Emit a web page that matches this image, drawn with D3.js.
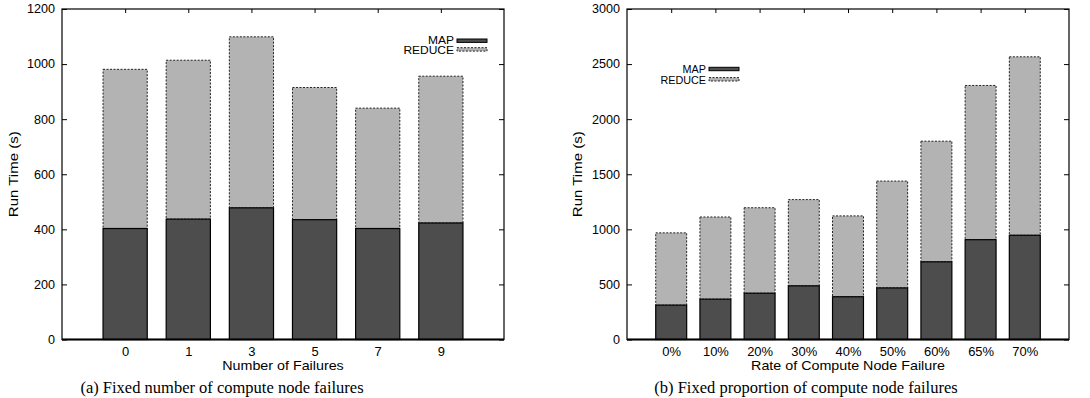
<!DOCTYPE html>
<html>
<head>
<meta charset="utf-8">
<script src="https://cdn.jsdelivr.net/npm/d3@7"></script>
<style>
body { margin: 0; background: #fff; }
svg text { font-family: "Liberation Sans", Arial, sans-serif; fill: #000; }
svg text.caption { font-family: "Liberation Serif", "Times New Roman", serif; }
</style>
</head>
<body>
<div id="chart"></div>
<script>

// (a) fixed number of failures
var failureCounts = ["0", "1", "3", "5", "7", "9"];
var countMap = [403, 437, 478, 435, 403, 423];
var countReduce = [578, 577, 621, 480, 437, 533];
var countTicks = [0, 200, 400, 600, 800, 1000, 1200];

// (b) fixed proportion of failures
var failureRates = ["0%", "10%", "20%", "30%", "40%", "50%", "60%", "65%", "70%"];
var rateMap = [312, 366, 420, 487, 388, 468, 705, 906, 946];
var rateReduce = [656, 746, 776, 783, 734, 970, 1095, 1400, 1620];
var rateTicks = [0, 500, 1000, 1500, 2000, 2500, 3000];

var seriesNames = ["MAP", "REDUCE"];

var svg = d3.select("#chart").append("svg")
	.attr("width", 1090)
	.attr("height", 398);

/*
 * StackedBarVis - one gnuplot-style panel
 */
StackedBarVis = function(_svg, _opts){
	this.svg = _svg;
	this.opts = _opts;
	this.initVis();
}

StackedBarVis.prototype.initVis = function(){
	var vis = this;
	var o = vis.opts;

	vis.width = o.width;
	vis.height = o.height;

	vis.g = vis.svg.append("g")
		.attr("transform", "translate(" + o.left + "," + o.top + ")");

	var n = o.categories.length;
	vis.x = d3.scaleLinear().domain([0, n + 1]).range([0, vis.width]);
	vis.y = d3.scaleLinear().domain([0, d3.max(o.ticks)]).range([vis.height, 0]);

	var rows = o.categories.map(function(c, i){
		return { cat: c, i: i + 1, map: o.map[i], reduce: o.reduce[i] };
	});
	var half = 0.35;

	// reduce part (on top of map)
	vis.g.selectAll(".reduce")
		.data(rows)
		.enter()
		.append("rect")
		.attr("class", "reduce")
		.attr("x", function(d){ return vis.x(d.i - half); })
		.attr("width", function(d){ return vis.x(d.i + half) - vis.x(d.i - half); })
		.attr("y", function(d){ return vis.y(d.map + d.reduce); })
		.attr("height", function(d){ return vis.y(d.map) - vis.y(d.map + d.reduce); })
		.attr("fill", "#b3b3b3")
		.attr("stroke", "#222")
		.attr("stroke-width", 1)
		.attr("stroke-dasharray", "2,1.5");

	vis.g.selectAll(".map")
		.data(rows)
		.enter()
		.append("rect")
		.attr("class", "map")
		.attr("x", function(d){ return vis.x(d.i - half); })
		.attr("width", function(d){ return vis.x(d.i + half) - vis.x(d.i - half); })
		.attr("y", function(d){ return vis.y(d.map); })
		.attr("height", function(d){ return vis.y(0) - vis.y(d.map); })
		.attr("fill", "#4d4d4d")
		.attr("stroke", "#000")
		.attr("stroke-width", 1.2);

	// axes, gnuplot style ticks pointing inward
	var yLeft = vis.g.append("g")
		.call(d3.axisLeft(vis.y).tickValues(o.ticks).tickSize(-5).tickFormat(d3.format("d")));
	yLeft.selectAll("text")
		.attr("x", null)
		.attr("transform", "translate(-7,0) scale(1.05,1)")
		.style("font-size", "12px");

	vis.g.append("g")
		.attr("transform", "translate(" + vis.width + ",0)")
		.call(d3.axisRight(vis.y).tickValues(o.ticks).tickSize(-5).tickFormat(""));

	vis.g.append("g")
		.call(d3.axisTop(vis.x).tickValues(rows.map(function(d){ return d.i; })).tickSize(-4).tickFormat(""));

	var xBottom = vis.g.append("g")
		.attr("transform", "translate(0," + vis.height + ")")
		.call(d3.axisBottom(vis.x)
			.tickValues(rows.map(function(d){ return d.i; }))
			.tickFormat(function(v){ return o.categories[v - 1]; })
			.tickSize(0));
	xBottom.selectAll("text")
		.attr("y", null)
		.attr("dy", null)
		.attr("transform", "translate(0,16) scale(1.08,1)")
		.style("font-size", "12px");

	vis.g.selectAll(".domain").remove();
	vis.g.selectAll(".tick line").attr("stroke", "#000").attr("stroke-width", 1);

	// frame
	vis.g.append("rect")
		.attr("width", vis.width)
		.attr("height", vis.height)
		.attr("fill", "none")
		.attr("stroke", "#000")
		.attr("stroke-width", 1.2);
	vis.g.append("line")
		.attr("x1", 0).attr("x2", vis.width)
		.attr("y1", vis.height).attr("y2", vis.height)
		.attr("stroke", "#000")
		.attr("stroke-width", 2);

	// legend
	var leg = vis.g.append("g")
		.attr("transform", "translate(" + o.legend.x + "," + o.legend.y + ")");
	seriesNames.forEach(function(name, k){
		var yy = k * o.legend.gap;
		leg.append("text")
			.text(name)
			.attr("text-anchor", "end")
			.attr("transform", "translate(-3," + (yy + 3.5 + k * 1.2) + ") scale(" + o.legend.sx + ",1)")
			.style("font-size", "10px");
		var r = leg.append("rect")
			.attr("x", 0)
			.attr("y", yy - 1.7)
			.attr("width", 30)
			.attr("height", 3.4);
		if (k == 0) {
			r.attr("fill", "#4d4d4d").attr("stroke", "#000").attr("stroke-width", 1);
		} else {
			r.attr("fill", "#b3b3b3").attr("stroke", "#222").attr("stroke-width", 1).attr("stroke-dasharray", "2,1.5");
		}
	});

	// labels
	vis.svg.append("text")
		.text("Run Time (s)")
		.attr("text-anchor", "middle")
		.attr("transform", "translate(" + o.yLabelX + "," + (o.top + vis.height / 2) + ") rotate(-90) scale(1.2,1)")
		.style("font-size", "12.5px");

	vis.svg.append("text")
		.text(o.xLabel)
		.attr("text-anchor", "middle")
		.attr("transform", "translate(" + (o.left + vis.width / 2) + ",370) scale(1.1,1)")
		.style("font-size", "13px");

	vis.svg.append("text")
		.text(o.caption)
		.attr("class", "caption")
		.attr("text-anchor", "middle")
		.attr("transform", "translate(" + o.captionX + ",392.5)")
		.style("font-size", "16.5px");
}

var countVis = new StackedBarVis(svg, {
	left: 62, top: 9, width: 442, height: 330.5,
	categories: failureCounts, map: countMap, reduce: countReduce, ticks: countTicks,
	legend: { x: 395, y: 31.7, gap: 8.7, sx: 1.2 },
	yLabelX: 18,
	xLabel: "Number of Failures",
	caption: "(a) Fixed number of compute node failures",
	captionX: 222
});

var rateVis = new StackedBarVis(svg, {
	left: 627, top: 9, width: 442, height: 330.5,
	categories: failureRates, map: rateMap, reduce: rateReduce, ticks: rateTicks,
	legend: { x: 82, y: 60, gap: 10.3, sx: 1.08 },
	yLabelX: 582,
	xLabel: "Rate of Compute Node Failure",
	caption: "(b) Fixed proportion of compute node failures",
	captionX: 806
});

</script>
</body>
</html>
